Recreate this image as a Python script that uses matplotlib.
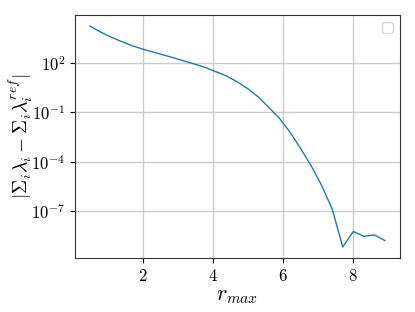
import numpy as np
import matplotlib
matplotlib.use("Agg")
import matplotlib.pyplot as plt

plt.rcParams["font.family"] = "serif"
plt.rcParams["font.serif"] = ["cmr10"]
plt.rcParams["mathtext.fontset"] = "cm"
plt.rcParams["axes.formatter.use_mathtext"] = True

# r_max values and log10 of the eigenvalue-sum error
r_max = [0.5, 0.8, 1.1, 1.4, 1.7, 2.0, 2.3, 2.6, 2.9, 3.2, 3.5, 3.8, 4.1, 4.4, 4.7,
         5.0, 5.3, 5.6, 5.9, 6.2, 6.5, 6.8, 7.1, 7.4, 7.7, 8.0, 8.3, 8.6, 8.9]
log_err = [4.23, 3.87, 3.56, 3.29, 3.04, 2.83, 2.65, 2.47, 2.29, 2.10, 1.91, 1.70, 1.45,
           1.19, 0.84, 0.42, -0.08, -0.72, -1.38, -2.22, -3.20, -4.25, -5.45, -6.88,
           -9.18, -8.24, -8.53, -8.45, -8.79]
err = 10.0 ** np.array(log_err)

fig = plt.figure(figsize=(4.15, 3.12), dpi=100)
ax = fig.add_axes([0.181, 0.173, 0.782, 0.779])

ax.plot(r_max, err, color="tab:blue", linewidth=1)
ax.set_yscale("log")
ax.set_yticks([1e2, 1e-1, 1e-4, 1e-7])
ax.yaxis.set_minor_locator(matplotlib.ticker.NullLocator())
ax.set_xticks([2, 4, 6, 8])
ax.grid(True, color="#cccccc", linewidth=1)
ax.tick_params(labelsize=12)
for s in ax.spines.values():
    s.set_color("#333333")

ax.set_xlabel(r"$r_{max}$", fontsize=16, labelpad=2)
ax.set_ylabel(r"$|\Sigma_i \lambda_i - \Sigma_i \lambda_i^{ref}|$", fontsize=14)
ax.yaxis.set_label_coords(-0.125, 0.5)
ax.legend(handles=[], loc="upper right")

fig.savefig("out.png", dpi=100)
